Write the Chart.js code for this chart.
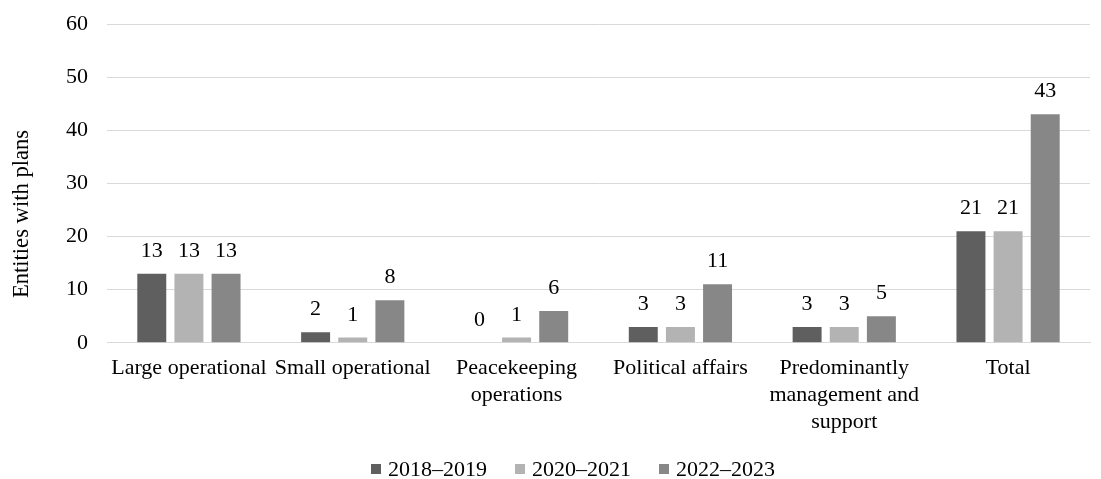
<!DOCTYPE html>
<html>
<head>
<meta charset="utf-8">
<script src="https://cdn.jsdelivr.net/npm/chart.js@4/dist/chart.umd.min.js"></script>
<style>
html,body{margin:0;padding:0;background:#fff;}
#wrap{width:1101px;height:479px;position:relative;}
</style>
</head>
<body>
<div id="wrap"><canvas id="c" width="1101" height="479"></canvas></div>
<script>
const categories = [
  "Large operational",
  "Small operational",
  ["Peacekeeping", "operations"],
  "Political affairs",
  ["Predominantly", "management and", "support"],
  "Total"
];
const seriesNames = ["2018\u20132019", "2020\u20132021", "2022\u20132023"];
const values2018 = [13, 2, 0, 3, 3, 21];
const values2020 = [13, 1, 1, 3, 3, 21];
const values2022 = [13, 8, 6, 11, 5, 43];
const yTicks = [0, 10, 20, 30, 40, 50, 60];
const yTitle = "Entities with plans";
const colors = ["#5f5f5f", "#b3b3b3", "#878787"];

const FONT = "'Liberation Serif', 'Times New Roman', serif";
const FS = 22;

const labelPlugin = {
  id: 'valueLabels',
  afterDatasetsDraw(chart) {
    const ctx = chart.ctx;
    ctx.save();
    ctx.font = FS + "px " + FONT;
    ctx.fillStyle = "#000";
    ctx.textAlign = "center";
    ctx.textBaseline = "alphabetic";
    chart.data.datasets.forEach((ds, i) => {
      const meta = chart.getDatasetMeta(i);
      meta.data.forEach((bar, j) => {
        ctx.fillText(String(ds.data[j]), bar.x, bar.y - 17);
      });
    });
    ctx.restore();
  }
};

// Bottom legend drawn from the dataset labels/colours, plus the y-axis title
const decoPlugin = {
  id: 'deco',
  afterDraw(chart) {
    const ctx = chart.ctx;
    ctx.save();
    ctx.font = FS + "px " + FONT;
    ctx.textBaseline = "middle";
    ctx.textAlign = "left";
    const box = 10, gap = 7, pitch = 144, cx = 573, cy = 469;
    const ds = chart.data.datasets;
    const lastW = ctx.measureText(ds[ds.length - 1].label).width;
    const total = pitch * (ds.length - 1) + box + gap + lastW;
    let x = cx - total / 2;
    ds.forEach((d) => {
      ctx.fillStyle = d.backgroundColor;
      ctx.fillRect(x, cy - box / 2, box, box);
      ctx.fillStyle = "#000";
      ctx.fillText(d.label, x + box + gap, cy + 1);
      x += pitch;
    });
    // y-axis title
    ctx.font = "22.6px " + FONT;
    ctx.translate(22, 214);
    ctx.rotate(-Math.PI / 2);
    ctx.textAlign = "center";
    ctx.fillStyle = "#000";
    ctx.fillText(yTitle, 0, 0);
    ctx.restore();
  }
};

new Chart(document.getElementById('c'), {
  type: 'bar',
  data: {
    labels: categories,
    datasets: [
      { label: seriesNames[0], data: values2018, backgroundColor: colors[0] },
      { label: seriesNames[1], data: values2020, backgroundColor: colors[1] },
      { label: seriesNames[2], data: values2022, backgroundColor: colors[2] }
    ]
  },
  options: {
    responsive: false,
    animation: false,
    layout: { padding: { top: 24, right: 11, left: 47, bottom: 32 } },
    datasets: { bar: { categoryPercentage: 0.68, barPercentage: 0.78 } },
    plugins: {
      legend: { display: false },
      tooltip: { enabled: false }
    },
    scales: {
      x: {
        grid: { display: false, drawTicks: false },
        border: { display: true, color: "#d9d9d9", width: 1 },
        ticks: {
          font: { family: FONT, size: FS, lineHeight: 1.23 },
          color: "#000",
          maxRotation: 0,
          autoSkip: false,
          padding: 11.5
        }
      },
      y: {
        min: 0,
        max: 60,
        afterBuildTicks(axis) { axis.ticks = yTicks.map(v => ({ value: v })); },
        afterFit(scale) { scale.paddingTop = 0; scale.paddingBottom = 0; },
        grid: { color: "#d9d9d9", drawTicks: false },
        border: { display: false },
        ticks: {
          font: { family: FONT, size: FS },
          color: "#000",
          padding: 19
        }
      }
    }
  },
  plugins: [labelPlugin, decoPlugin]
});
</script>
</body>
</html>
